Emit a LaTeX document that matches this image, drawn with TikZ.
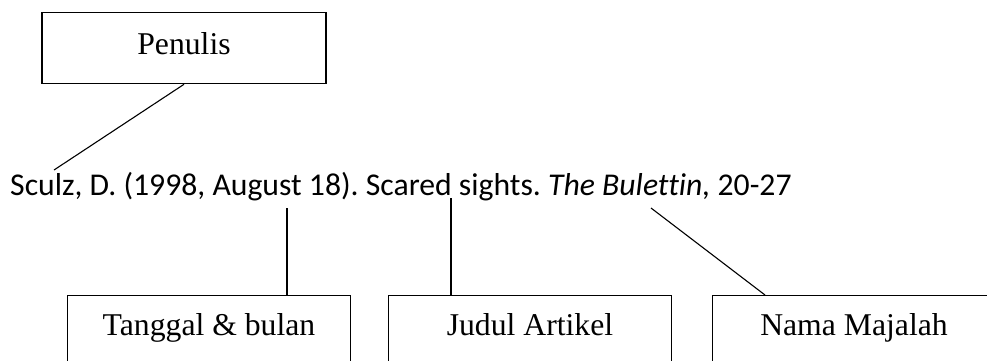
\documentclass[tikz,border=0pt]{standalone}
\usepackage{fontspec}
\setmainfont{Liberation Serif}
\newfontfamily\citefont[Ligatures={NoCommon}]{Carlito}
\frenchspacing
\begin{document}
\begin{tikzpicture}[x=1pt,y=-1pt,
  labelbox/.style={draw=black,line width=1.3pt,inner sep=0pt,minimum width=283pt,
    font=\fontsize{31.7}{36}\selectfont,text height=40pt,text depth=100pt,anchor=north},
  conn/.style={draw=black,line width=1.1pt}]
\useasboundingbox (0,0) rectangle (987,360);
\node[draw=black,line width=1.3pt,inner sep=0pt,minimum width=284pt,
  font=\fontsize{31.7}{36}\selectfont,text height=42pt,text depth=29pt,anchor=north]
  (penulis) at (184,12) {Penulis};
\node[font=\citefont\fontsize{31.7}{36}\selectfont,inner sep=0pt,anchor=base west]
  (cite) at (10,195) {\frenchspacing Sculz, D. (1998, August 18). Scared sights. \textit{The Bulettin,} 20-27};
\node[labelbox] (tanggal) at (209,295) {Tanggal \& bulan};
\node[labelbox] (judul) at (530,295) {Judul Artikel};
\node[labelbox] (nama) at (854,295) {Nama Majalah};
\coordinate (pEnd) at (54,170);
\coordinate (tEnd) at (287,208);
\coordinate (jEnd) at (451,198);
\coordinate (nEnd) at (651,208);
\coordinate (nTop) at (765,295);
\draw[conn] (penulis.south) -- (pEnd);
\draw[conn] (tEnd) -- (tEnd |- tanggal.north);
\draw[conn] (jEnd) -- (jEnd |- judul.north);
\draw[conn] (nEnd) -- (nTop);
\end{tikzpicture}
\end{document}
